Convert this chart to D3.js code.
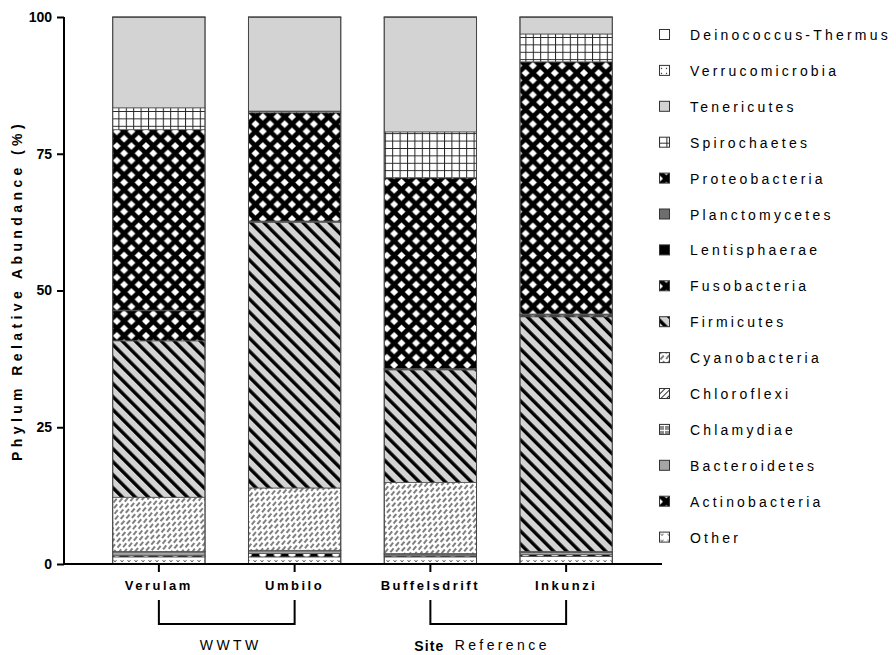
<!DOCTYPE html>
<html>
<head>
<meta charset="utf-8">
<script src="https://cdn.jsdelivr.net/npm/d3@7"></script>
<style>
  body { margin: 0; background: #fff; }
  svg text { font-family: "Liberation Sans", Arial, sans-serif; fill: #000; }
</style>
</head>
<body>
<div id="chart"></div>
<script>
// phyla from bottom of the stack to the top
const phyla = ["Other", "Actinobacteria", "Bacteroidetes", "Chlamydiae", "Chloroflexi",
  "Cyanobacteria", "Firmicutes", "Fusobacteria", "Lentisphaerae", "Planctomycetes",
  "Proteobacteria", "Spirochaetes", "Tenericutes", "Verrucomicrobia", "Deinococcus-Thermus"];

const sites = ["Verulam", "Umbilo", "Buffelsdrift", "Inkunzi"];

// relative abundance (%) per site, same order as phyla
const verulam      = [1.3, 0.3, 0.6, 0.05, 0.05, 9.9, 28.6, 5.5, 0.05, 0.05, 33.0, 4.0, 16.5, 0.05, 0.05];
const umbilo       = [1.3, 0.6, 0.5, 0.05, 0.05, 11.4, 48.6, 0.1, 0.05, 0.05, 19.8, 0.3, 17.1, 0.05, 0.05];
const buffelsdrift = [1.3, 0.2, 0.3, 0.05, 0.05, 13.0, 20.6, 0.1, 0.05, 0.05, 34.9, 8.4, 20.9, 0.05, 0.05];
const inkunzi      = [1.4, 0.3, 0.4, 0.05, 0.05, 0.1, 42.9, 0.3, 0.1, 0.1, 46.1, 5.1, 3.0, 0.05, 0.05];

const yTicks = [0, 25, 50, 75, 100];
const groups = [
  { label: "WWTW", from: "Verulam", to: "Umbilo" },
  { label: "Reference", from: "Buffelsdrift", to: "Inkunzi" }
];

const table = sites.map((s, i) => {
  const vals = [verulam, umbilo, buffelsdrift, inkunzi][i];
  const row = { site: s };
  phyla.forEach((p, j) => row[p] = vals[j]);
  return row;
});

const W = 896, H = 655;
const svg = d3.select("#chart").append("svg")
  .attr("width", W).attr("height", H);

// fill patterns
const defs = svg.append("defs");
function pat(id, w, h, bg, transform) {
  const p = defs.append("pattern").attr("id", id)
    .attr("patternUnits", "userSpaceOnUse")
    .attr("width", w).attr("height", h);
  if (transform) p.attr("patternTransform", transform);
  p.append("rect").attr("width", w).attr("height", h).attr("fill", bg);
  return p;
}
// dotted 'v' marks
let p = pat("p-other", 7, 6, "#fff");
p.append("path").attr("d", "M1.5,2 L3,4 L4.5,2").attr("fill", "none").attr("stroke", "#555").attr("stroke-width", 0.9);
// black lattice with white diamonds
p = pat("p-lattice", 14.6, 14.6, "#000");
[[0, 0], [14.6, 0], [0, 14.6], [14.6, 14.6], [7.3, 7.3]].forEach(([cx, cy]) => {
  p.append("path").attr("d", `M${cx},${cy - 4} L${cx + 4},${cy} L${cx},${cy + 4} L${cx - 4},${cy} Z`).attr("fill", "#fff");
});
// gray with white grid
p = pat("p-chlam", 5, 5, "#8c8c8c");
p.append("path").attr("d", "M0,0.5 H5 M0.5,0 V5").attr("stroke", "#fff").attr("stroke-width", 1);
// light diagonal lines
p = pat("p-chloro", 4, 4, "#fff", "rotate(45)");
p.append("rect").attr("width", 1).attr("height", 4).attr("fill", "#333");
// brick of short diagonal dashes
p = pat("p-cyano", 8, 8, "#fff", "rotate(-50)");
p.append("path").attr("d", "M0,2 H5 M4,6 H8 M0,6 H1").attr("stroke", "#000").attr("stroke-width", 1.2);
// heavy stripes
p = pat("p-firm", 9.2, 9.2, "#d3d3d3", "rotate(-45)");
p.append("rect").attr("width", 3.4).attr("height", 9.2).attr("fill", "#000");
// open grid
p = pat("p-spiro", 7.4, 7.4, "#fff");
p.append("path").attr("d", "M0,0.5 H7.4 M0.5,0 V7.4").attr("stroke", "#222").attr("stroke-width", 1);
// dots
p = pat("p-verruco", 5, 5, "#fff");
p.append("circle").attr("cx", 2.5).attr("cy", 2.5).attr("r", 0.7).attr("fill", "#333");

const fills = {
  "Other": "url(#p-other)",
  "Actinobacteria": "url(#p-lattice)",
  "Bacteroidetes": "#a6a6a6",
  "Chlamydiae": "url(#p-chlam)",
  "Chloroflexi": "url(#p-chloro)",
  "Cyanobacteria": "url(#p-cyano)",
  "Firmicutes": "url(#p-firm)",
  "Fusobacteria": "url(#p-lattice)",
  "Lentisphaerae": "#000",
  "Planctomycetes": "#6e6e6e",
  "Proteobacteria": "url(#p-lattice)",
  "Spirochaetes": "url(#p-spiro)",
  "Tenericutes": "#d3d3d3",
  "Verrucomicrobia": "url(#p-verruco)",
  "Deinococcus-Thermus": "#fff"
};

const axisX = 64, axisY = 564;
const x = d3.scaleBand().domain(sites).range([91, 634]).paddingInner(0.32).paddingOuter(0.16);
const y = d3.scaleLinear().domain([0, 100]).range([axisY, 17]);

const stack = d3.stack().keys(phyla)(table);

svg.append("g").selectAll("g")
  .data(stack)
  .join("g")
  .attr("fill", d => fills[d.key])
  .selectAll("rect")
  .data(d => d)
  .join("rect")
  .attr("x", d => x(d.data.site))
  .attr("width", x.bandwidth())
  .attr("y", d => y(d[1]))
  .attr("height", d => y(d[0]) - y(d[1]))
  .attr("stroke", "#555")
  .attr("stroke-width", 0.8);

// outline each whole bar
svg.append("g").selectAll("rect")
  .data(sites)
  .join("rect")
  .attr("x", d => x(d))
  .attr("width", x.bandwidth())
  .attr("y", y(100))
  .attr("height", y(0) - y(100))
  .attr("fill", "none")
  .attr("stroke", "#444")
  .attr("stroke-width", 1);

// y axis
const yAxis = svg.append("g").attr("transform", `translate(${axisX},0)`)
  .call(d3.axisLeft(y).tickValues(yTicks).tickSize(7).tickPadding(5));
yAxis.select(".domain").attr("stroke", "#000").attr("stroke-width", 2).attr("d", `M0,${y(100)}V${axisY}`);
yAxis.selectAll(".tick line").attr("stroke", "#000").attr("stroke-width", 2);
yAxis.selectAll(".tick text").attr("font-size", 14).attr("font-weight", "bold")
  .attr("font-family", "Liberation Sans, Arial, sans-serif");

// x axis
const xAxis = svg.append("g").attr("transform", `translate(0,${axisY})`)
  .call(d3.axisBottom(x).tickSize(8).tickPadding(9));
xAxis.select(".domain").attr("stroke", "#000").attr("stroke-width", 2).attr("d", `M${axisX - 1},0H662`);
xAxis.selectAll(".tick line").attr("stroke", "#000").attr("stroke-width", 2);
xAxis.selectAll(".tick text").attr("font-size", 13).attr("font-weight", "bold")
  .attr("letter-spacing", 2.5).attr("font-family", "Liberation Sans, Arial, sans-serif");

// y title
svg.append("text")
  .attr("transform", `translate(22,${(y(0) + y(100)) / 2}) rotate(-90)`)
  .attr("text-anchor", "middle")
  .attr("font-size", 14).attr("font-weight", "bold").attr("letter-spacing", 4.4)
  .text("Phylum Relative Abundance (%)");

// group brackets under the axis
const cx = s => x(s) + x.bandwidth() / 2;
groups.forEach(g => {
  const x0 = cx(g.from), x1 = cx(g.to);
  svg.append("path")
    .attr("d", `M${x0},600V624H${x1}V600`)
    .attr("fill", "none").attr("stroke", "#000").attr("stroke-width", 2);
  svg.append("text")
    .attr("x", (x0 + x1) / 2 + 4).attr("y", 650)
    .attr("text-anchor", "middle")
    .attr("font-size", 14).attr("letter-spacing", 3.4)
    .text(g.label);
});
svg.append("text")
  .attr("x", cx("Buffelsdrift") - 1).attr("y", 651)
  .attr("text-anchor", "middle")
  .attr("font-size", 14).attr("font-weight", "bold").attr("letter-spacing", 1.2)
  .text("Site");

// legend, top entry is the last phylum
const legend = svg.append("g").selectAll("g")
  .data(phyla.slice().reverse())
  .join("g")
  .attr("transform", (d, i) => `translate(659,${35 + i * 35.9})`);
legend.append("rect")
  .attr("x", 0.5).attr("y", -5.5).attr("width", 10).attr("height", 10)
  .attr("fill", d => fills[d]).attr("stroke", "#333").attr("stroke-width", 1);
legend.append("text")
  .attr("x", 31).attr("y", 5)
  .attr("font-size", 14).attr("letter-spacing", 3.2)
  .text(d => d);
</script>
</body>
</html>
